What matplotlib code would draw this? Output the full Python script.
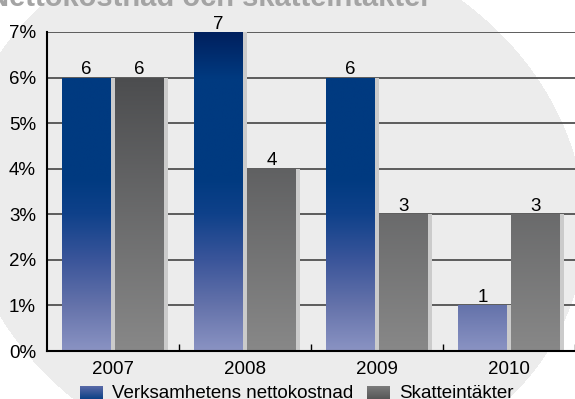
import matplotlib
matplotlib.use("Agg")
import matplotlib.pyplot as plt
import numpy as np
from matplotlib.colors import LinearSegmentedColormap, ListedColormap

plt.rcParams['font.family'] = ['Liberation Sans', 'DejaVu Sans']

title = "Nettokostnad och skatteintäkter"
years = ['2007', '2008', '2009', '2010']
netto = [6, 7, 6, 1]
skatt = [6, 4, 3, 3]
series_names = ['Verksamhetens nettokostnad', 'Skatteintäkter']
yticks = [0, 1, 2, 3, 4, 5, 6, 7]

W, H = 575, 399
fig = plt.figure(figsize=(W / 100, H / 100), dpi=100, facecolor='white')

# background: light grey oval shape (decoration), fitted through edge points in pixels
bg = fig.add_axes([0, 0, 1, 1], zorder=-10)
bg.axis('off')
pts = np.array([(43, 0), (0, 58), (0, 322), (77, 399), (510, 399), (575, 290)], float)
M = np.column_stack([pts[:, 0]**2, pts[:, 0]*pts[:, 1], pts[:, 1]**2, pts[:, 0], pts[:, 1], np.ones(len(pts))])
coef = np.linalg.svd(M)[2][-1]
xx, yy = np.meshgrid(np.arange(W) + 0.5, np.arange(H) + 0.5)
F = (coef[0]*xx**2 + coef[1]*xx*yy + coef[2]*yy**2 + coef[3]*xx + coef[4]*yy + coef[5])
fc = (coef[0]*300**2 + coef[1]*300*200 + coef[2]*200**2 + coef[3]*300 + coef[4]*200 + coef[5])
inside = (np.sign(F) == np.sign(fc)).astype(float)
bg.imshow(inside, cmap=ListedColormap(['#ffffff', '#ececec']), extent=(0, W, H, 0),
          interpolation='antialiased', aspect='auto', vmin=0, vmax=1)
bg.set_xlim(0, W)
bg.set_ylim(H, 0)

fig.text(-12 / W, (H - 6) / H, title, fontsize=21, fontweight='bold',
         color='#a4a4a4', ha='left', va='baseline')

ax = fig.add_axes([47 / W, (H - 351) / H, (W - 47) / W, 319 / H])
ax.patch.set_alpha(0)

blue_cmap = LinearSegmentedColormap.from_list('b', [
    (0.0, '#8a93c3'), (1 / 7, '#6472aa'), (2 / 7, '#3a559a'),
    (3 / 7, '#0f418a'), (3.8 / 7, '#003a80'), (6 / 7, '#003a80'), (1.0, '#00205e')])
gray_cmap = LinearSegmentedColormap.from_list('g', [
    (0.0, '#888888'), (6 / 7, '#4c4d4f'), (1.0, '#404042')])

x = np.arange(len(years))
bw = 0.37
off = 0.2
sh = 4 / 132

for yv in yticks[1:]:
    ax.axhline(yv, color='#505050', lw=1.3, zorder=1)

grad = np.linspace(0, 1, 256).reshape(-1, 1)
for vals, dx, cmap in [(netto, -off, blue_cmap), (skatt, off, gray_cmap)]:
    ax.bar(x + dx + sh, vals, bw, color='#cbcbcb', zorder=2, linewidth=0)
    bars = ax.bar(x + dx, vals, bw, color='none', zorder=3, linewidth=0)
    for b in bars:
        im = ax.imshow(grad, cmap=cmap, origin='lower', aspect='auto',
                       extent=(b.get_x(), b.get_x() + b.get_width(), 0, 7),
                       zorder=3, interpolation='bilinear')
        im.set_clip_path(b)
    for xi, v in zip(x + dx, vals):
        ax.annotate(str(v), (xi, v), xytext=(0, 2.5), textcoords='offset points',
                    ha='center', va='baseline', fontsize=13.5, color='black', zorder=5)
ax.set_xlim(-0.5, 3.5)
ax.set_ylim(0, 7)

for s in ['top', 'right']:
    ax.spines[s].set_visible(False)
ax.spines['left'].set_linewidth(1.5)
ax.spines['bottom'].set_linewidth(1.5)
ax.spines['left'].set_zorder(6)
ax.spines['bottom'].set_zorder(6)

ax.set_yticks(yticks)
ax.set_yticklabels([f'{v}%' for v in yticks])
ax.set_xticks(x)
ax.set_xticklabels(years)
ax.set_xticks(np.arange(0.5, 4, 1), minor=True)
ax.tick_params(axis='both', which='major', length=0, labelsize=13.5, pad=7)
ax.tick_params(axis='y', pad=8)
ax.tick_params(axis='x', which='minor', direction='in', length=5, width=1, color='black')

# legend
lax = fig.add_axes([0, 0, 1, 1], zorder=5)
lax.axis('off')
lax.patch.set_alpha(0)
lg_blue = LinearSegmentedColormap.from_list('lb', ['#003a80', '#5a6aa8'])
lg_gray = LinearSegmentedColormap.from_list('lg', ['#505050', '#7c7c7c'])
for (px, tx, name, cm) in [(80, 112, series_names[0], lg_blue), (367, 399, series_names[1], lg_gray)]:
    lax.imshow(grad, cmap=cm, origin='lower', aspect='auto',
               extent=(px, px + 23, 401, 386), interpolation='bilinear')
    lax.text(tx, 398, name, fontsize=13.5, ha='left', va='baseline', color='black')
lax.set_xlim(0, W)
lax.set_ylim(H, 0)

fig.savefig('out.png', dpi=100, facecolor='white')
